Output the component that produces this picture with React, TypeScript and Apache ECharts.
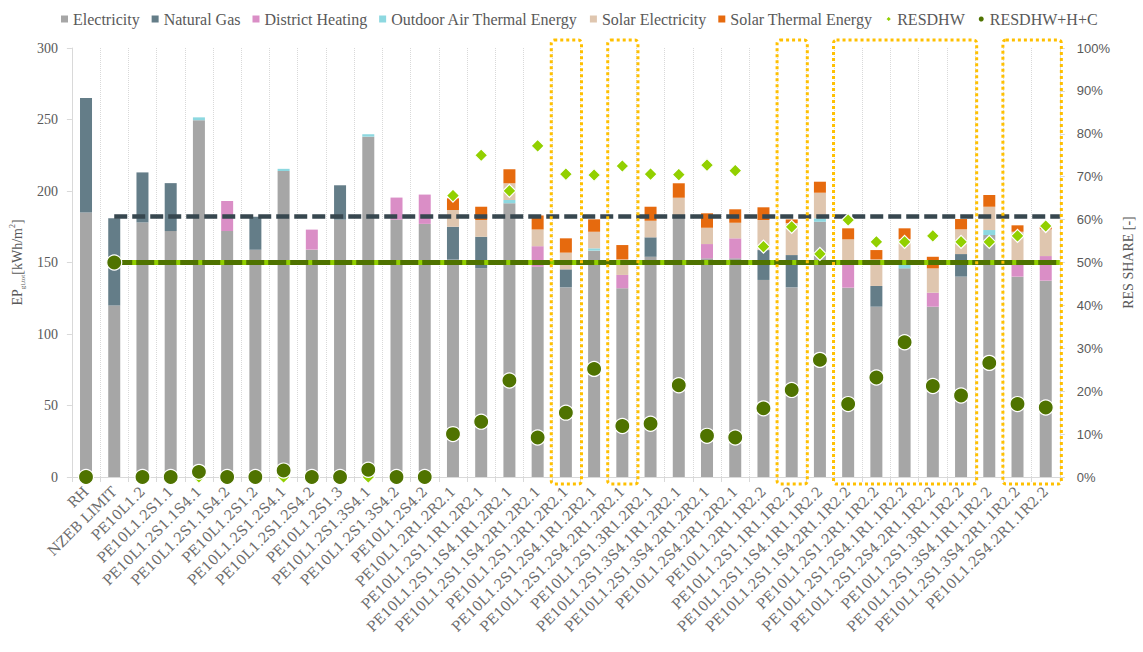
import React, { useEffect, useRef } from 'react';
import * as echarts from 'echarts';

const categories = [
  'RH', 'NZEB LIMIT', 'PE10L1.2', 'PE10L1.2S1.1', 'PE10L1.2S1.1S4.1', 'PE10L1.2S1.1S4.2',
  'PE10L1.2S1.2', 'PE10L1.2S1.2S4.1', 'PE10L1.2S1.2S4.2', 'PE10L1.2S1.3', 'PE10L1.2S1.3S4.1',
  'PE10L1.2S1.3S4.2', 'PE10L1.2S4.2',
  'PE10L1.2R1.2R2.1', 'PE10L1.2S1.1R1.2R2.1', 'PE10L1.2S1.1S4.1R1.2R2.1', 'PE10L1.2S1.1S4.2R1.2R2.1',
  'PE10L1.2S1.2R1.2R2.1', 'PE10L1.2S1.2S4.1R1.2R2.1', 'PE10L1.2S1.2S4.2R1.2R2.1', 'PE10L1.2S1.3R1.2R2.1',
  'PE10L1.2S1.3S4.1R1.2R2.1', 'PE10L1.2S1.3S4.2R1.2R2.1', 'PE10L1.2S4.2R1.2R2.1',
  'PE10L1.2R1.1R2.2', 'PE10L1.2S1.1R1.1R2.2', 'PE10L1.2S1.1S4.1R1.1R2.2', 'PE10L1.2S1.1S4.2R1.1R2.2',
  'PE10L1.2S1.2R1.1R2.2', 'PE10L1.2S1.2S4.1R1.1R2.2', 'PE10L1.2S1.2S4.2R1.1R2.2', 'PE10L1.2S1.3R1.1R2.2',
  'PE10L1.2S1.3S4.1R1.1R2.2', 'PE10L1.2S1.3S4.2R1.1R2.2', 'PE10L1.2S4.2R1.1R2.2',
];

const electricity = [185, 120, 178, 172, 249.5, 172, 159, 214, 159, 180, 238, 180, 177,
  152, 146, 191.4, 147, 132.6, 158.3, 132, 154, 181.6, 152.9, 152.9,
  137.8, 132.6, 178.5, 132.4, 119.1, 145.9, 119.1, 140.1, 169.2, 140.1, 137.3];
const naturalGas = [80, 61, 35, 33.5, 0, 0, 23, 0, 0, 24, 0, 0, 0,
  23, 22, 0, 0, 12.6, 0, 0, 13.6, 0, 0, 0,
  20.9, 22.6, 0, 0, 14.5, 0, 0, 15.8, 0, 0, 0];
const districtHeating = [0, 0, 0, 0, 0, 21, 0, 0, 14, 0, 0, 15.4, 20.5,
  0, 0, 0, 14.4, 0, 0, 9.3, 0, 0, 10, 14,
  0, 0, 0, 15.9, 0, 0, 9.8, 0, 0, 8.2, 17.2];
const outdoorAir = [0, 0, 0, 0, 2, 0, 0, 1.5, 0, 0, 1.7, 0, 0,
  0, 0, 2.3, 0, 0, 1.6, 0, 0, 1.6, 0, 0,
  0, 0, 2.4, 0, 0, 2.4, 0, 0, 3.5, 0, 0];
const solarElectricity = [0, 0, 0, 0, 0, 0, 0, 0, 0, 0, 0, 0, 0,
  11.7, 11.7, 11.7, 11.7, 11.7, 11.6, 10.9, 11.6, 12.1, 11.4, 10.9,
  21, 22.4, 17.9, 17.9, 18.6, 18.1, 17, 17.3, 16.3, 23.2, 18.7];
const solarThermal = [0, 0, 0, 0, 0, 0, 0, 0, 0, 0, 0, 0, 0,
  8.2, 9.3, 9.8, 9.8, 10, 8.7, 10, 9.8, 10.1, 10.1, 9.4,
  8.9, 2.5, 7.7, 7.7, 6.5, 7.5, 8.1, 7.2, 8.2, 4.5, 2.5];
const resDHW = [0, 0.5, 0, 0, 0, 0, 0, 0, 0, 0, 0, 0, 0,
  0.656, 0.75, 0.667, 0.772, 0.706, 0.704, 0.725, 0.706, 0.705, 0.727, 0.714,
  0.537, 0.583, 0.52, 0.599, 0.548, 0.548, 0.562, 0.548, 0.548, 0.562, 0.585];
const resDHWHC = [0, 0.5, 0, 0, 0.012, 0, 0, 0.015, 0, 0, 0.017, 0, 0,
  0.10, 0.129, 0.225, 0.092, 0.15, 0.252, 0.119, 0.124, 0.214, 0.096, 0.092,
  0.16, 0.203, 0.273, 0.17, 0.232, 0.314, 0.212, 0.19, 0.266, 0.17, 0.162];

const nzebEpLimit = 182;
const nzebResLimit = 0.5;
const highlightRanges = [[17, 17], [19, 19], [25, 25], [27, 31], [33, 34]];

const barSeries = [
  { name: 'Electricity', data: electricity, color: '#A6A6A6' },
  { name: 'Natural Gas', data: naturalGas, color: '#647D88' },
  { name: 'District Heating', data: districtHeating, color: '#DA8EC6' },
  { name: 'Outdoor Air Thermal Energy', data: outdoorAir, color: '#8DD8E0' },
  { name: 'Solar Electricity', data: solarElectricity, color: '#DFC6AF' },
  { name: 'Solar Thermal Energy', data: solarThermal, color: '#E66A0E' },
];

const TXT = '#595959';
const SERIF = "'Liberation Serif', 'Times New Roman', serif";

export default function App() {
  const ref = useRef<HTMLDivElement>(null);
  useEffect(() => {
    document.body.style.margin = '0';
    const chart = echarts.init(ref.current as HTMLDivElement, null, { renderer: 'svg' });
    const lastCat = categories[categories.length - 1];

    const buildSeries = (epEnd: any, resEnd: any) => {
      const series: any[] = barSeries.map((s, i) => ({
        name: s.name,
        type: 'bar',
        stack: 'ep',
        barWidth: 12,
        data: s.data,
        itemStyle: { color: s.color },
        z: 2,
        ...(i === 0
          ? {
              markLine: {
                silent: true,
                symbol: 'none',
                label: { show: false },
                z: 5,
                data: [[{ coord: [categories[1], nzebEpLimit] }, epEnd]],
                lineStyle: { color: '#37474F', width: 4.5, type: [13, 5] },
              },
            }
          : {}),
      }));
      series.push({
        name: 'RESDHW',
        type: 'scatter',
        yAxisIndex: 1,
        symbol: 'diamond',
        symbolSize: 13,
        data: resDHW,
        itemStyle: { color: '#92D000', borderColor: '#ffffff', borderWidth: 1.2, opacity: 1 },
        z: 10,
        markLine: {
          silent: true,
          symbol: 'none',
          label: { show: false },
          z: 6,
          data: [
            [
              { coord: [categories[1], nzebResLimit], lineStyle: { color: '#92D000', width: 5, type: 'solid' } },
              resEnd,
            ],
            [
              { coord: [categories[1], nzebResLimit], lineStyle: { color: '#4F7300', width: 5, type: [18, 4] } },
              resEnd,
            ],
          ],
        },
      });
      series.push({
        name: 'RESDHW+H+C',
        type: 'scatter',
        yAxisIndex: 1,
        symbol: 'circle',
        symbolSize: 15,
        data: resDHWHC,
        itemStyle: { color: '#4F7300', borderColor: '#ffffff', borderWidth: 1.2, opacity: 1 },
        z: 11,
      });
      return series;
    };

    const option: any = {
      animation: false,
      backgroundColor: '#ffffff',
      legend: {
        left: 56,
        top: 6,
        itemWidth: 7,
        itemHeight: 7,
        itemGap: 12,
        textStyle: { fontFamily: SERIF, fontSize: 16, color: TXT },
        data: [
          ...barSeries.map((s) => ({ name: s.name, icon: 'rect' })),
          { name: 'RESDHW', icon: 'diamond' },
          { name: 'RESDHW+H+C', icon: 'circle' },
        ],
      },
      grid: { left: 68, right: 77, top: 48, bottom: 175 },
      xAxis: {
        type: 'category',
        data: categories,
        axisLine: { lineStyle: { color: '#D9D9D9', width: 1 } },
        axisTick: { show: true, interval: 0, length: 5, lineStyle: { color: '#D9D9D9' } },
        splitLine: { show: true, interval: 0, lineStyle: { color: '#D9D9D9', type: 'dotted' } },
        axisLabel: {
          interval: 0,
          rotate: 45,
          margin: 12,
          fontFamily: "'DejaVu Serif', serif",
          fontSize: 14,
          color: '#6b6b6b',
        },
      },
      yAxis: [
        {
          type: 'value',
          min: 0,
          max: 300,
          interval: 50,
          splitLine: { show: false },
          axisLine: { show: true, lineStyle: { color: '#D9D9D9' } },
          axisTick: { show: true, length: 5, lineStyle: { color: '#D9D9D9' } },
          axisLabel: { fontFamily: SERIF, fontSize: 14, color: TXT, margin: 14 },
          name: '{a|EP}{s|gl,tot}{a|[kWh/m}{p|2}{a|]}',
          nameLocation: 'middle',
          nameGap: 44,
          nameTextStyle: {
            color: TXT,
            rich: {
              a: { fontFamily: SERIF, fontSize: 14, color: TXT, lineHeight: 18, verticalAlign: 'middle' },
              s: { fontFamily: SERIF, fontSize: 7, color: TXT, lineHeight: 18, verticalAlign: 'bottom' },
              p: { fontFamily: SERIF, fontSize: 8, color: TXT, lineHeight: 18, verticalAlign: 'top' },
            },
          },
        },
        {
          type: 'value',
          min: 0,
          max: 1,
          interval: 0.1,
          position: 'right',
          splitLine: { show: false },
          axisLine: { show: true, lineStyle: { color: '#D9D9D9' } },
          axisTick: { show: true, length: 5, lineStyle: { color: '#D9D9D9' } },
          axisLabel: {
            fontFamily: "'Liberation Sans', sans-serif",
            fontSize: 13,
            color: TXT,
            margin: 17,
            formatter: (v: number) => `${Math.round(v * 100)}%`,
          },
          name: 'RES SHARE [-]',
          nameLocation: 'middle',
          nameGap: 55,
          nameTextStyle: { fontFamily: SERIF, fontSize: 14, color: TXT },
        },
      ],
      series: buildSeries(
        { coord: [lastCat, nzebEpLimit] },
        { coord: [lastCat, nzebResLimit] },
      ),
    };
    chart.setOption(option);

    const x0 = chart.convertToPixel({ xAxisIndex: 0 }, 0) as number;
    const x1 = chart.convertToPixel({ xAxisIndex: 0 }, 1) as number;
    const band = x1 - x0;
    const xLast = chart.convertToPixel({ xAxisIndex: 0 }, categories.length - 1) as number;
    const xRight = xLast + band / 2;
    const yEp = chart.convertToPixel({ yAxisIndex: 0 }, nzebEpLimit) as number;
    const yRes = chart.convertToPixel({ yAxisIndex: 1 }, nzebResLimit) as number;
    const yTop = (chart.convertToPixel({ yAxisIndex: 0 }, 300) as number) - 8;
    const yBot = (chart.convertToPixel({ yAxisIndex: 0 }, 0) as number) + 7;
    const boxes = highlightRanges.map(([a, b]) => {
      const ca = chart.convertToPixel({ xAxisIndex: 0 }, a) as number;
      const cb = chart.convertToPixel({ xAxisIndex: 0 }, b) as number;
      const l = ca - band / 2 - 0.5;
      const r = cb + band / 2 + 1.5;
      return {
        type: 'rect',
        silent: true,
        z: 20,
        shape: { x: l, y: yTop, width: r - l, height: yBot - yTop, r: 3 },
        style: { fill: 'none', stroke: '#FFC000', lineWidth: 3, lineDash: [3, 3] },
      };
    });
    chart.setOption({
      graphic: boxes,
      series: buildSeries({ x: xRight, y: yEp }, { x: xRight, y: yRes }),
    });

    return () => chart.dispose();
  }, []);
  return <div ref={ref} style={{ width: 1143, height: 652 }} />;
}
